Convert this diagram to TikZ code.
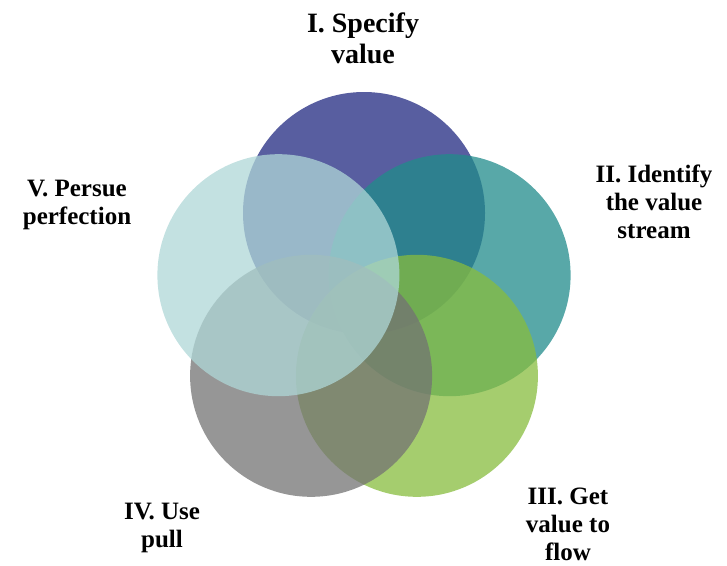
\documentclass[tikz,border=0pt]{standalone}
\usepackage{fontspec}
\setmainfont{Liberation Serif}
\usetikzlibrary{calc}
\definecolor{specblue}{RGB}{32,40,128}
\definecolor{streamteal}{RGB}{32,139,139}
\definecolor{flowgreen}{RGB}{135,188,62}
\definecolor{pullgray}{RGB}{115,115,115}
\definecolor{perfcyan}{RGB}{175,215,215}
\tikzset{
  ring/.style={circle, minimum size=242pt, inner sep=0pt, fill opacity=0.75},
  stage/.style={align=center, font=\fontsize{25}{28}\selectfont\bfseries, anchor=base},
}
\begin{document}
\begin{tikzpicture}[x=1pt,y=-1pt]
  \useasboundingbox (0,0) rectangle (727,565);
  \coordinate (mid) at (364,303);

  \foreach \n/\c [count=\k from 0] in {1/specblue,2/streamteal,3/flowgreen,4/pullgray,5/perfcyan}
    \node[ring, fill=\c] (ring\n) at ($(mid)+({270+72*\k}:90)$) {};

  \node[stage, font=\fontsize{28}{31}\selectfont\bfseries] (stage1) at (363,63) {I. Specify\\value};
  \node[stage] (stage2) at (654,238) {II. Identify\\the value\\stream};
  \node[stage] (stage3) at (568,560) {III. Get\\value to\\flow};
  \node[stage] (stage4) at (162,547) {IV. Use\\pull};
  \node[stage] (stage5) at (77,224) {V. Persue\\perfection};
\end{tikzpicture}
\end{document}
